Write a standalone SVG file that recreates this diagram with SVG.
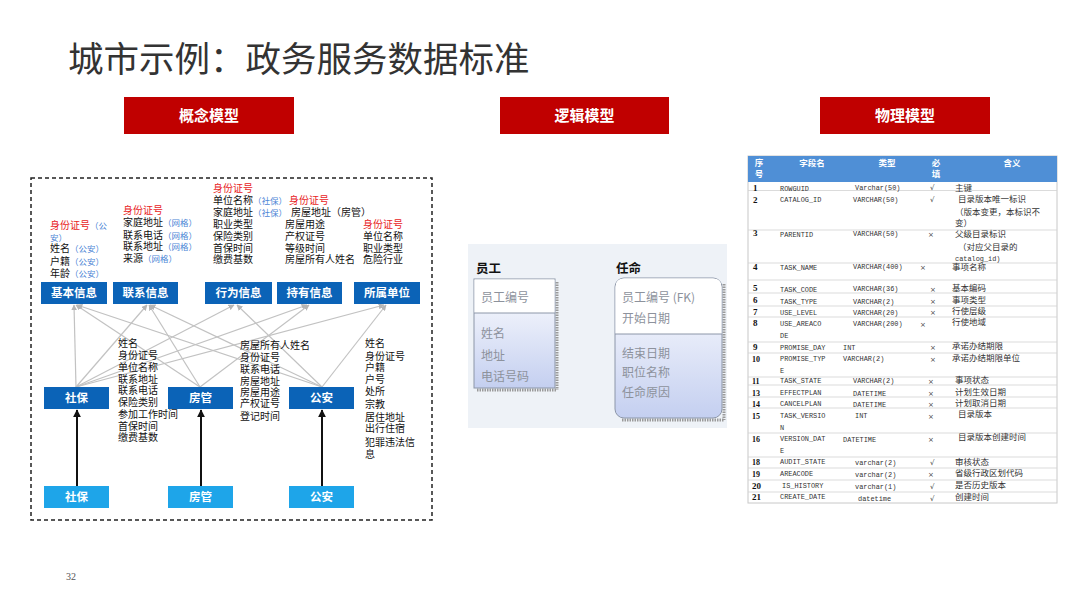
<svg xmlns="http://www.w3.org/2000/svg" width="1080" height="608" viewBox="0 0 1080 608">
<defs>
<style>
.title{font-family:"Noto Sans CJK SC",sans-serif;font-size:35.5px;fill:#333}
.hdr{fill:#c00000}
.hdrt{font-family:"Noto Sans CJK SC",sans-serif;font-size:15px;font-weight:bold;fill:#fff;text-anchor:middle}
.dk{fill:#0b63b7}
.lt{fill:#1ea5e9}
.nt{font-family:"Noto Sans CJK SC",sans-serif;font-size:11.5px;font-weight:bold;fill:#fff;text-anchor:middle}
.tx{font-family:"Noto Sans CJK SC",sans-serif;font-size:10px;fill:#111}
.rd{fill:#e8231e}
.bl{fill:#4d86d6;font-size:8.5px}
.gl{stroke:#c2c2c2;stroke-width:1.2;fill:none}
.ba{stroke:#111;stroke-width:2;fill:none}
.lg{font-family:"Noto Sans CJK SC",sans-serif;font-size:12px;fill:#8d929c}
.lgh{font-family:"Noto Sans CJK SC",sans-serif;font-size:12.5px;font-weight:bold;fill:#111}
.n{font-family:"Liberation Serif",serif;font-size:9px;font-weight:bold;fill:#111}
.f{font-family:"Liberation Mono",monospace;font-size:6.9px;fill:#333}
.m{font-family:"Noto Sans CJK SC",sans-serif;font-size:8.5px;fill:#333}
.k{font-family:"DejaVu Sans",sans-serif;font-size:7px;fill:#444}
.th{font-family:"Noto Sans CJK SC",sans-serif;font-size:8.5px;font-weight:bold;fill:#fff;text-anchor:middle}
.rl{stroke:#d2d2d2;stroke-width:0.8}
</style>
<marker id="ga" viewBox="0 0 10 10" refX="9" refY="5" markerWidth="6" markerHeight="6" orient="auto" markerUnits="userSpaceOnUse">
<path d="M0,0 L10,5 L0,10 z" fill="#b5b5b5"/>
</marker>
<marker id="bk" viewBox="0 0 10 10" refX="9" refY="5" markerWidth="8" markerHeight="8" orient="auto" markerUnits="userSpaceOnUse">
<path d="M0,0 L10,5 L0,10 z" fill="#111"/>
</marker>
<linearGradient id="eg" x1="0" y1="0" x2="0" y2="1">
<stop offset="0" stop-color="#ffffff"/>
<stop offset="1" stop-color="#c4cff0"/>
</linearGradient>
</defs>
<rect width="1080" height="608" fill="#fff"/>

<g id="title"><text class="title" x="68" y="72">城市示例：政务服务数据标准</text></g>

<g id="hdr-concept"><rect class="hdr" x="124" y="97" width="170" height="37"/><text class="hdrt" x="209" y="121">概念模型</text></g>
<g id="hdr-logic"><rect class="hdr" x="500" y="97" width="169" height="37"/><text class="hdrt" x="584.5" y="121">逻辑模型</text></g>
<g id="hdr-physical"><rect class="hdr" x="820" y="97" width="170" height="37"/><text class="hdrt" x="905" y="121">物理模型</text></g>

<rect id="concept-frame" x="31" y="178" width="401" height="342" fill="none" stroke="#222" stroke-width="1.5" stroke-dasharray="4 3"/>

<g id="connectors">
<line class="gl" x1="76" y1="387" x2="74" y2="305" marker-end="url(#ga)"/>
<line class="gl" x1="76" y1="387" x2="147" y2="305" marker-end="url(#ga)"/>
<line class="gl" x1="76" y1="387" x2="234" y2="305" marker-end="url(#ga)"/>
<line class="gl" x1="76" y1="387" x2="307" y2="305" marker-end="url(#ga)"/>
<line class="gl" x1="76" y1="387" x2="384" y2="305" marker-end="url(#ga)"/>
<line class="gl" x1="200" y1="387" x2="76" y2="305" marker-end="url(#ga)"/>
<line class="gl" x1="200" y1="387" x2="149" y2="305" marker-end="url(#ga)"/>
<line class="gl" x1="200" y1="387" x2="309" y2="305" marker-end="url(#ga)"/>
<line class="gl" x1="322" y1="387" x2="77" y2="305" marker-end="url(#ga)"/>
<line class="gl" x1="322" y1="387" x2="150" y2="305" marker-end="url(#ga)"/>
<line class="gl" x1="322" y1="387" x2="237" y2="305" marker-end="url(#ga)"/>
<line class="gl" x1="322" y1="387" x2="386" y2="305" marker-end="url(#ga)"/>
<line class="ba" x1="77" y1="486" x2="77" y2="410" marker-end="url(#bk)"/>
<line class="ba" x1="201" y1="486" x2="201" y2="410" marker-end="url(#bk)"/>
<line class="ba" x1="322" y1="486" x2="322" y2="410" marker-end="url(#bk)"/>
<line x1="555" y1="329" x2="615" y2="329" stroke="#8a8a8a" stroke-width="1.3"/>
<line x1="562" y1="321" x2="562" y2="338" stroke="#8a8a8a" stroke-width="1.3"/>
<circle cx="602" cy="329" r="5" fill="none" stroke="#8a8a8a" stroke-width="1.3"/>
<path d="M607,329 L615,321 M607,329 L615,329 M607,329 L615,337" stroke="#8a8a8a" stroke-width="1.3" fill="none"/>
</g>

<g id="n-jiben"><rect class="dk" x="41" y="282" width="66" height="22"/><text class="nt" x="74" y="297">基本信息</text></g>
<g id="n-lianxi"><rect class="dk" x="113" y="282" width="65" height="22"/><text class="nt" x="145.5" y="297">联系信息</text></g>
<g id="n-xingwei"><rect class="dk" x="205" y="282" width="67" height="22"/><text class="nt" x="238.5" y="297">行为信息</text></g>
<g id="n-chiyou"><rect class="dk" x="277" y="282" width="65" height="22"/><text class="nt" x="309.5" y="297">持有信息</text></g>
<g id="n-suoshu"><rect class="dk" x="354" y="282" width="66" height="22"/><text class="nt" x="387" y="297">所属单位</text></g>

<g id="n-shebao"><rect class="dk" x="44" y="387" width="65" height="22"/><text class="nt" x="76.5" y="402">社保</text></g>
<g id="n-fangguan"><rect class="dk" x="168" y="387" width="65" height="22"/><text class="nt" x="200.5" y="402">房管</text></g>
<g id="n-gongan"><rect class="dk" x="289" y="387" width="65" height="22"/><text class="nt" x="321.5" y="402">公安</text></g>

<g id="b-shebao"><rect class="lt" x="44" y="486" width="65" height="22"/><text class="nt" x="76.5" y="501">社保</text></g>
<g id="b-fangguan"><rect class="lt" x="168" y="486" width="65" height="22"/><text class="nt" x="200.5" y="501">房管</text></g>
<g id="b-gongan"><rect class="lt" x="289" y="486" width="65" height="22"/><text class="nt" x="321.5" y="501">公安</text></g>

<g id="t-jiben" class="tx">
<text x="50" y="229"><tspan class="rd">身份证号</tspan><tspan class="bl">（公</tspan></text>
<text x="50" y="241"><tspan class="bl">安）</tspan></text>
<text x="50" y="252">姓名<tspan class="bl">（公安）</tspan></text>
<text x="50" y="265">户籍<tspan class="bl">（公安）</tspan></text>
<text x="50" y="277">年龄<tspan class="bl">（公安）</tspan></text>
</g>
<g id="t-lianxi" class="tx">
<text x="123" y="214" class="rd">身份证号</text>
<text x="123" y="226">家庭地址<tspan class="bl">（网格）</tspan></text>
<text x="123" y="239">联系电话<tspan class="bl">（网格）</tspan></text>
<text x="123" y="250">联系地址<tspan class="bl">（网格）</tspan></text>
<text x="123" y="262">来源<tspan class="bl">（网格）</tspan></text>
</g>
<g id="t-xingwei" class="tx">
<text x="213" y="192" class="rd">身份证号</text>
<text x="213" y="204">单位名称<tspan class="bl">（社保）</tspan></text>
<text x="213" y="216">家庭地址<tspan class="bl">（社保）</tspan></text>
<text x="213" y="228">职业类型</text>
<text x="213" y="240">保险类别</text>
<text x="213" y="252">首保时间</text>
<text x="213" y="263">缴费基数</text>
</g>
<g id="t-chiyou" class="tx">
<text x="289" y="204" class="rd">身份证号</text>
<text x="291" y="216">房屋地址（房管）</text>
<text x="285" y="228">房屋用途</text>
<text x="285" y="240">产权证号</text>
<text x="285" y="252">等级时间</text>
<text x="285" y="263">房屋所有人姓名</text>
</g>
<g id="t-suoshu" class="tx">
<text x="363" y="228" class="rd">身份证号</text>
<text x="363" y="240">单位名称</text>
<text x="363" y="252">职业类型</text>
<text x="363" y="263">危险行业</text>
</g>

<g id="t-shebao" class="tx">
<text x="118" y="347">姓名</text>
<text x="118" y="359">身份证号</text>
<text x="118" y="371">单位名称</text>
<text x="118" y="383">联系地址</text>
<text x="118" y="394">联系电话</text>
<text x="118" y="406">保险类别</text>
<text x="118" y="418">参加工作时间</text>
<text x="118" y="430">首保时间</text>
<text x="118" y="441">缴费基数</text>
</g>
<g id="t-fangguan" class="tx">
<text x="240" y="349">房屋所有人姓名</text>
<text x="240" y="361">身份证号</text>
<text x="240" y="373">联系电话</text>
<text x="240" y="385">房屋地址</text>
<text x="240" y="396">房屋用途</text>
<text x="240" y="407">产权证号</text>
<text x="240" y="420">登记时间</text>
</g>
<g id="t-gongan" class="tx">
<text x="365" y="347">姓名</text>
<text x="365" y="360">身份证号</text>
<text x="365" y="371">户籍</text>
<text x="365" y="383">户号</text>
<text x="365" y="395">处所</text>
<text x="365" y="408">宗教</text>
<text x="365" y="421">居住地址</text>
<text x="365" y="432">出行住宿</text>
<text x="365" y="446">犯罪违法信</text>
<text x="365" y="458">息</text>
</g>

<rect id="logic-bg" x="468" y="244" width="259" height="184" fill="#eef2f7"/>
<g id="e-yuangong">
<text class="lgh" x="476" y="273">员工</text>
<line x1="557" y1="282" x2="557" y2="390" stroke="#9a9a9a" stroke-width="3" stroke-dasharray="1.5 1"/>
<line x1="477" y1="390" x2="557" y2="390" stroke="#9a9a9a" stroke-width="3" stroke-dasharray="1.5 1"/>
<rect x="474" y="279" width="81" height="109" fill="url(#eg)" stroke="#8c96a8" stroke-width="1"/>
<rect x="474.5" y="279.5" width="80" height="33.5" fill="#fff"/>
<line x1="474" y1="313" x2="555" y2="313" stroke="#8c96a8" stroke-width="1"/>
<text class="lg" x="481" y="302">员工编号</text>
<text class="lg" x="481" y="338">姓名</text>
<text class="lg" x="481" y="360">地址</text>
<text class="lg" x="481" y="381">电话号码</text>
</g>
<g id="e-renming">
<text class="lgh" x="616" y="273">任命</text>
<line x1="724" y1="284" x2="724" y2="420" stroke="#9a9a9a" stroke-width="3" stroke-dasharray="1.5 1"/>
<line x1="622" y1="420" x2="724" y2="420" stroke="#9a9a9a" stroke-width="3" stroke-dasharray="1.5 1"/>
<rect x="615" y="278" width="107" height="140" rx="9" fill="url(#eg)" stroke="#8c96a8" stroke-width="1"/>
<path d="M615.5,334 L615.5,287 Q615.5,278.5 624,278.5 L713,278.5 Q721.5,278.5 721.5,287 L721.5,334 z" fill="#fff"/>
<line x1="615" y1="334" x2="722" y2="334" stroke="#8c96a8" stroke-width="1"/>
<text class="lg" x="622" y="302">员工编号 (FK)</text>
<text class="lg" x="622" y="323">开始日期</text>
<text class="lg" x="622" y="358">结束日期</text>
<text class="lg" x="622" y="377">职位名称</text>
<text class="lg" x="622" y="397">任命原因</text>
</g>

<g id="physical-table">
<rect x="748" y="156" width="309" height="347" fill="#fff" stroke="#c8c8c8" stroke-width="1"/>
<rect x="748" y="156" width="309" height="26" fill="#4f8fd6"/>
<text class="th" x="759" y="166">序</text>
<text class="th" x="759" y="177">号</text>
<text class="th" x="812" y="166">字段名</text>
<text class="th" x="887" y="166">类型</text>
<text class="th" x="936" y="166">必</text>
<text class="th" x="936" y="177">填</text>
<text class="th" x="1012" y="166">含义</text>
<g>
<line class="rl" x1="748" y1="190.5" x2="1057" y2="190.5"/>
<line class="rl" x1="748" y1="230" x2="1057" y2="230"/>
<line class="rl" x1="748" y1="263" x2="1057" y2="263"/>
<line class="rl" x1="748" y1="280" x2="1057" y2="280"/>
<line class="rl" x1="748" y1="293" x2="1057" y2="293"/>
<line class="rl" x1="748" y1="306" x2="1057" y2="306"/>
<line class="rl" x1="748" y1="317" x2="1057" y2="317"/>
<line class="rl" x1="748" y1="342" x2="1057" y2="342"/>
<line class="rl" x1="748" y1="353" x2="1057" y2="353"/>
<line class="rl" x1="748" y1="377" x2="1057" y2="377"/>
<line class="rl" x1="748" y1="385" x2="1057" y2="385"/>
<line class="rl" x1="748" y1="397" x2="1057" y2="397"/>
<line class="rl" x1="748" y1="408" x2="1057" y2="408"/>
<line class="rl" x1="748" y1="433" x2="1057" y2="433"/>
<line class="rl" x1="748" y1="457" x2="1057" y2="457"/>
<line class="rl" x1="748" y1="468" x2="1057" y2="468"/>
<line class="rl" x1="748" y1="480" x2="1057" y2="480"/>
<line class="rl" x1="748" y1="492" x2="1057" y2="492"/>
</g>
<text class="n" x="753" y="191">1</text><text class="f" x="780" y="191">ROWGUID</text><text class="f" x="855" y="190">Varchar(50)</text><text class="k" x="930" y="190">√</text><text class="m" x="955" y="191">主键</text>
<text class="n" x="753" y="203">2</text><text class="f" x="780" y="202">CATALOG_ID</text><text class="f" x="853" y="202">VARCHAR(50)</text><text class="k" x="930" y="202">√</text>
<text class="m" x="958" y="202">目录版本唯一标识</text><text class="m" x="955" y="215">（版本变更，本标识不</text><text class="m" x="955" y="226">变）</text>
<text class="n" x="753" y="236">3</text><text class="f" x="780" y="237">PARENTID</text><text class="f" x="853" y="236">VARCHAR(50)</text><text class="k" x="928" y="237">×</text>
<text class="m" x="955" y="237">父级目录标识</text><text class="m" x="958" y="250">（对应父目录的</text><text class="f" x="955" y="261">catalog_id)</text>
<text class="n" x="753" y="270">4</text><text class="f" x="780" y="270">TASK_NAME</text><text class="f" x="853" y="269">VARCHAR(400)</text><text class="k" x="920" y="270">×</text><text class="m" x="952" y="270">事项名称</text>
<text class="n" x="753" y="291">5</text><text class="f" x="780" y="292">TASK_CODE</text><text class="f" x="853" y="291">VARCHAR(36)</text><text class="k" x="930" y="292">×</text><text class="m" x="952" y="291">基本编码</text>
<text class="n" x="753" y="303">6</text><text class="f" x="780" y="304">TASK_TYPE</text><text class="f" x="853" y="304">VARCHAR(2)</text><text class="k" x="930" y="304">×</text><text class="m" x="952" y="303">事项类型</text>
<text class="n" x="753" y="315">7</text><text class="f" x="780" y="315">USE_LEVEL</text><text class="f" x="853" y="315">VARCHAR(20)</text><text class="k" x="930" y="315">×</text><text class="m" x="952" y="314">行使层级</text>
<text class="n" x="753" y="326">8</text><text class="f" x="780" y="326">USE_AREACO</text><text class="f" x="780" y="338">DE</text><text class="f" x="853" y="326">VARCHAR(200)</text><text class="k" x="920" y="327">×</text><text class="m" x="952" y="325">行使地域</text>
<text class="n" x="753" y="350">9</text><text class="f" x="780" y="350">PROMISE_DAY</text><text class="f" x="843" y="350">INT</text><text class="k" x="930" y="350">×</text><text class="m" x="952" y="349">承诺办结期限</text>
<text class="n" x="752" y="362" style="font-size:8px">10</text><text class="f" x="780" y="361">PROMISE_TYP</text><text class="f" x="780" y="373">E</text><text class="f" x="843" y="361">VARCHAR(2)</text><text class="k" x="930" y="362">×</text><text class="m" x="952" y="361">承诺办结期限单位</text>
<text class="n" x="752" y="384" style="font-size:8px">11</text><text class="f" x="780" y="383">TASK_STATE</text><text class="f" x="853" y="383">VARCHAR(2)</text><text class="k" x="928" y="384">×</text><text class="m" x="955" y="383">事项状态</text>
<text class="n" x="752" y="396" style="font-size:8px">13</text><text class="f" x="780" y="395">EFFECTPLAN</text><text class="f" x="853" y="396">DATETIME</text><text class="k" x="928" y="396">×</text><text class="m" x="955" y="395">计划生效日期</text>
<text class="n" x="752" y="407" style="font-size:8px">14</text><text class="f" x="780" y="406">CANCELPLAN</text><text class="f" x="853" y="407">DATETIME</text><text class="k" x="928" y="407">×</text><text class="m" x="955" y="406">计划取消日期</text>
<text class="n" x="752" y="419" style="font-size:8px">15</text><text class="f" x="780" y="418">TASK_VERSIO</text><text class="f" x="780" y="430">N</text><text class="f" x="855" y="418">INT</text><text class="k" x="928" y="419">×</text><text class="m" x="958" y="417">目录版本</text>
<text class="n" x="752" y="442" style="font-size:8px">16</text><text class="f" x="780" y="441">VERSION_DAT</text><text class="f" x="780" y="453">E</text><text class="f" x="843" y="442">DATETIME</text><text class="k" x="928" y="442">×</text><text class="m" x="958" y="440">目录版本创建时间</text>
<text class="n" x="752" y="465" style="font-size:8px">18</text><text class="f" x="780" y="464">AUDIT_STATE</text><text class="f" x="855" y="465">varchar(2)</text><text class="k" x="930" y="465">√</text><text class="m" x="955" y="465">审核状态</text>
<text class="n" x="752" y="477" style="font-size:8px">19</text><text class="f" x="780" y="476">AREACODE</text><text class="f" x="855" y="477">varchar(2)</text><text class="k" x="928" y="477">×</text><text class="m" x="955" y="476">省级行政区划代码</text>
<text class="n" x="752" y="489">20</text><text class="f" x="782" y="488">IS_HISTORY</text><text class="f" x="855" y="489">varchar(1)</text><text class="k" x="930" y="489">√</text><text class="m" x="955" y="488">是否历史版本</text>
<text class="n" x="752" y="500">21</text><text class="f" x="780" y="499">CREATE_DATE</text><text class="f" x="858" y="501">datetime</text><text class="k" x="930" y="501">√</text><text class="m" x="955" y="500">创建时间</text>
</g>

<text id="page" x="66" y="580" style="font-family:'Liberation Serif',serif;font-size:10px;fill:#555">32</text>
</svg>
